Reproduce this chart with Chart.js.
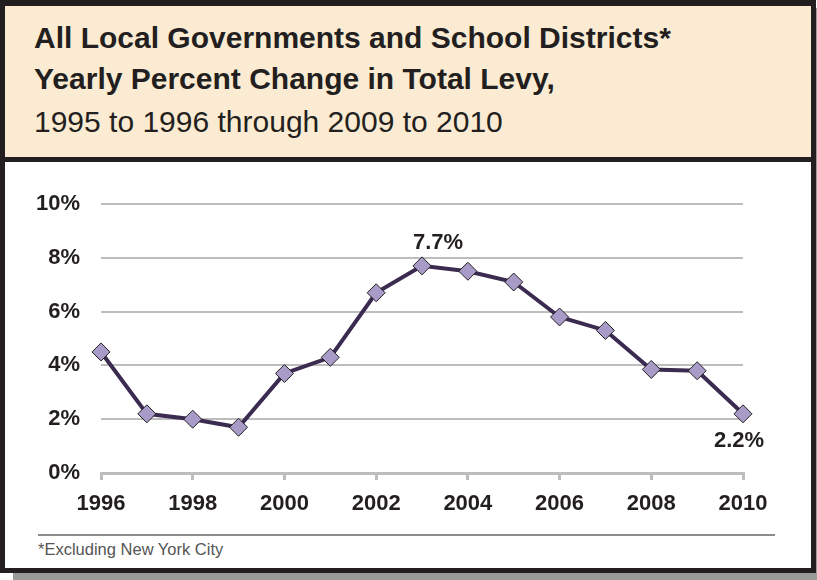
<!DOCTYPE html>
<html>
<head>
<meta charset="utf-8">
<script src="https://cdn.jsdelivr.net/npm/chart.js@4"></script>
<style>
  html, body { margin: 0; padding: 0; background: #fff; }
  body { width: 817px; height: 580px; position: relative; overflow: hidden; font-family: "Liberation Sans", Arial, sans-serif; }
  .shadow { position: absolute; left: 13px; top: 8px; width: 804px; height: 572px; background: #9a9a9a; }
  .frame { position: absolute; left: 0; top: 0; width: 806px; height: 562px; border: 5px solid #231f20; border-top-width: 6px; background: #fff; }
  .header { position: absolute; left: 0; top: 0; width: 806px; height: 151px; background: #fbebd3; border-bottom: 5px solid #231f20; }
  .title { position: absolute; left: 29px; white-space: nowrap; color: #231f20; font-size: 30px; line-height: 30px; }
  .title.b { font-weight: bold; }
  .rule { position: absolute; left: 38px; top: 534px; width: 737px; height: 2px; background: #8c8c8c; }
  .note { position: absolute; left: 38px; top: 540px; font-size: 16.5px; color: #555; }
  canvas { position: absolute; left: 0; top: 0; }
</style>
</head>
<body>
<div class="shadow"></div>
<div class="frame">
  <div class="header">
    <div class="title b" style="top:17px">All Local Governments and School Districts*</div>
    <div class="title b" style="top:58px">Yearly Percent Change in Total Levy,</div>
    <div class="title" style="top:101px">1995 to 1996 through 2009 to 2010</div>
  </div>
</div>
<div class="rule"></div>
<div class="note">*Excluding New York City</div>
<canvas id="levyChart" width="817" height="580"></canvas>

<script>
// yearly percent change in total levy
const years = [1996, 1997, 1998, 1999, 2000, 2001, 2002, 2003, 2004, 2005, 2006, 2007, 2008, 2009, 2010];
const levyChange = [4.5, 2.2, 2.0, 1.7, 3.7, 4.3, 6.7, 7.7, 7.5, 7.1, 5.8, 5.3, 3.85, 3.8, 2.2];

// values printed next to their points: [index, offsetX, offsetY]
const callouts = [[7, 16, -17], [14, -4, 33]];

const ink = '#231f20';
const gridGray = '#bdbdbd';

// writes the value text for the peak and the last year
const calloutPlugin = {
    id: 'callouts',
    afterDatasetsDraw(chart) {
        const ctx = chart.ctx;
        const meta = chart.getDatasetMeta(0);
        ctx.save();
        ctx.font = 'bold 22px "Liberation Sans", Arial, sans-serif';
        ctx.fillStyle = ink;
        ctx.textAlign = 'center';
        ctx.textBaseline = 'alphabetic';
        callouts.forEach(([i, dx, dy]) => {
            const pt = meta.data[i];
            ctx.fillText(levyChange[i].toFixed(1) + '%', pt.x + dx, pt.y + dy);
        });
        ctx.restore();
    }
};

new Chart(document.getElementById('levyChart'), {
    type: 'line',
    data: {
        datasets: [{
            data: years.map((y, i) => ({ x: y, y: levyChange[i] })),
            borderColor: '#3b2b50',
            borderWidth: 4,
            pointStyle: 'rectRot',
            pointRadius: 9,
            pointBackgroundColor: '#a99bc8',
            pointBorderColor: ink,
            pointBorderWidth: 1,
            tension: 0,
            clip: false
        }]
    },
    options: {
        responsive: false,
        animation: false,
        layout: { padding: { left: 0, right: 74, top: 204, bottom: 50 } },
        plugins: { legend: { display: false }, tooltip: { enabled: false } },
        scales: {
            x: {
                type: 'linear',
                min: 1996,
                max: 2010,
                afterFit(scale) { scale.height = 57; },
                ticks: {
                    stepSize: 2,
                    padding: 11,
                    color: ink,
                    font: { family: '"Liberation Sans", Arial, sans-serif', size: 22, weight: 'bold' },
                    callback: v => String(v)
                },
                grid: { drawOnChartArea: false, drawTicks: true, tickLength: 7, color: gridGray, lineWidth: 3 },
                border: { color: gridGray, width: 3 }
            },
            y: {
                min: 0,
                max: 10,
                afterFit(scale) { scale.width = 101; },
                ticks: {
                    stepSize: 2,
                    padding: 21,
                    color: ink,
                    font: { family: '"Liberation Sans", Arial, sans-serif', size: 22, weight: 'bold' },
                    callback: v => v + '%'
                },
                grid: { drawTicks: false, color: gridGray, lineWidth: 2 },
                border: { display: false }
            }
        }
    },
    plugins: [calloutPlugin]
});
</script>
</body>
</html>
